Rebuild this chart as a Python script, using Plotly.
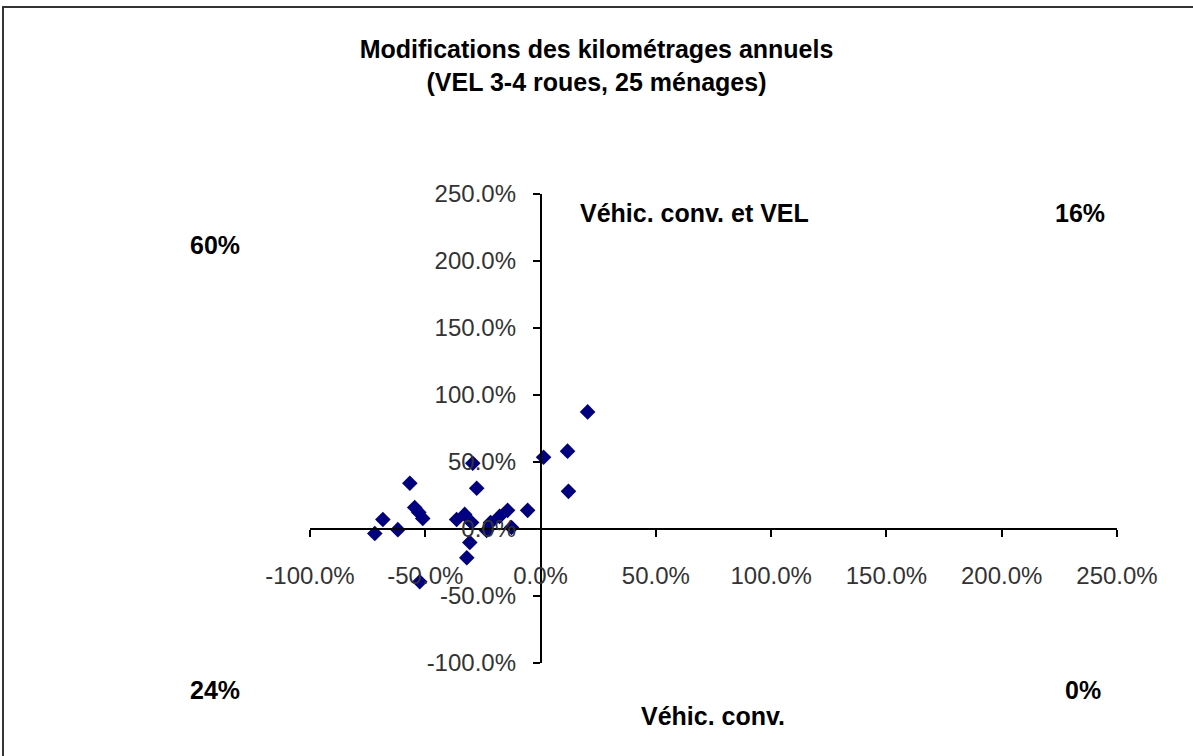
import plotly.graph_objects as go

# variation du kilométrage annuel (%) : véhicule conventionnel (x) / véhicule conv. + VEL (y)
km_vehic_conv = [20.4, 1.3, 11.7, 12.1, -29.4, -27.7, -56.7, -54.6, -51.1, -68.4,
                 -71.9, -61.9, -36.4, -32.9, -29.9, -30.7, -32.0, -52.4, -23.4, -21.7,
                 -17.8, -14.3, -12.6, -5.6, -52.8]
km_conv_et_vel = [87.4, 53.6, 58.1, 28.1, 49.1, 30.4, 34.1, 16.1, 7.9, 7.1,
                  -3.4, -0.5, 7.1, 10.9, 4.9, -10.1, -21.4, -39.4, -1.1, 4.9,
                  9.4, 13.9, 1.1, 13.9, 12.4]

x_range = [-100, 250]
y_range = [-100, 250]
tick_vals = [-100, -50, 0, 50, 100, 150, 200, 250]
tick_text = ["-100.0%", "-50.0%", "0.0%", "50.0%", "100.0%", "150.0%", "200.0%", "250.0%"]

# parts des ménages par quadrant
quadrants = {"haut_gauche": "60%", "haut_droite": "16%", "bas_gauche": "24%", "bas_droite": "0%"}

W, H = 1193, 756
L, R, T, B = 310, 76, 194, 93

def px_x(p):
    return (p - L) / (W - L - R)

def px_y(p):
    return (H - B - p) / (H - T - B)

fig = go.Figure()
fig.add_scatter(x=km_vehic_conv, y=km_conv_et_vel, mode="markers",
                marker=dict(symbol="diamond", size=12, color="#000080"),
                showlegend=False)

# les axes se croisent en 0
x_cross = (0 - y_range[0]) / (y_range[1] - y_range[0])
y_cross = (0 - x_range[0]) / (x_range[1] - x_range[0])

axis_style = dict(showgrid=False, zeroline=False, showline=True, linecolor="black", linewidth=1.5,
                  ticks="outside", ticklen=7, tickwidth=1.5, tickcolor="black",
                  tickvals=tick_vals, ticktext=tick_text,
                  tickfont=dict(family="Liberation Sans", size=24, color="#333"))

fig.update_xaxes(range=x_range, anchor="free", position=x_cross, ticklabelstandoff=18, **axis_style)
fig.update_yaxes(range=y_range, anchor="free", position=y_cross, ticklabelstandoff=12, **axis_style)

lab = dict(family="Liberation Sans", size=25, color="black")
ann = [
    dict(x=px_x(215), y=px_y(245), text="<b>" + quadrants["haut_gauche"] + "</b>"),
    dict(x=px_x(1080), y=px_y(213), text="<b>" + quadrants["haut_droite"] + "</b>"),
    dict(x=px_x(215), y=px_y(690), text="<b>" + quadrants["bas_gauche"] + "</b>"),
    dict(x=px_x(1083), y=px_y(690), text="<b>" + quadrants["bas_droite"] + "</b>"),
    dict(x=px_x(578), y=px_y(213), text="<b>Véhic. conv. et VEL</b>", xanchor="left"),
    dict(x=px_x(713), y=px_y(716), text="<b>Véhic. conv.</b>"),
]
for a in ann:
    fig.add_annotation(xref="paper", yref="paper", showarrow=False, font=lab,
                       xanchor=a.get("xanchor", "center"), yanchor="middle",
                       x=a["x"], y=a["y"], text=a["text"])

# cadre du graphique (bord gauche et haut)
fig.add_shape(type="rect", xref="paper", yref="paper",
              x0=px_x(3), x1=px_x(1250), y0=px_y(800), y1=px_y(7),
              line=dict(color="#333", width=2), fillcolor="rgba(0,0,0,0)", layer="below")

fig.update_layout(
    width=W, height=H, autosize=False,
    margin=dict(l=L, r=R, t=T, b=B),
    paper_bgcolor="white", plot_bgcolor="white",
    title=dict(text="<b>Modifications des kilométrages annuels<br>(VEL 3-4 roues, 25 ménages)</b>",
               x=0.5, xanchor="center", y=1 - 58 / H, yanchor="middle",
               font=dict(family="Liberation Sans", size=25, color="black")),
)

fig.write_html("out.html", config={"displayModeBar": False},
               post_script="document.body.style.margin='0';document.body.style.overflow='hidden';")
